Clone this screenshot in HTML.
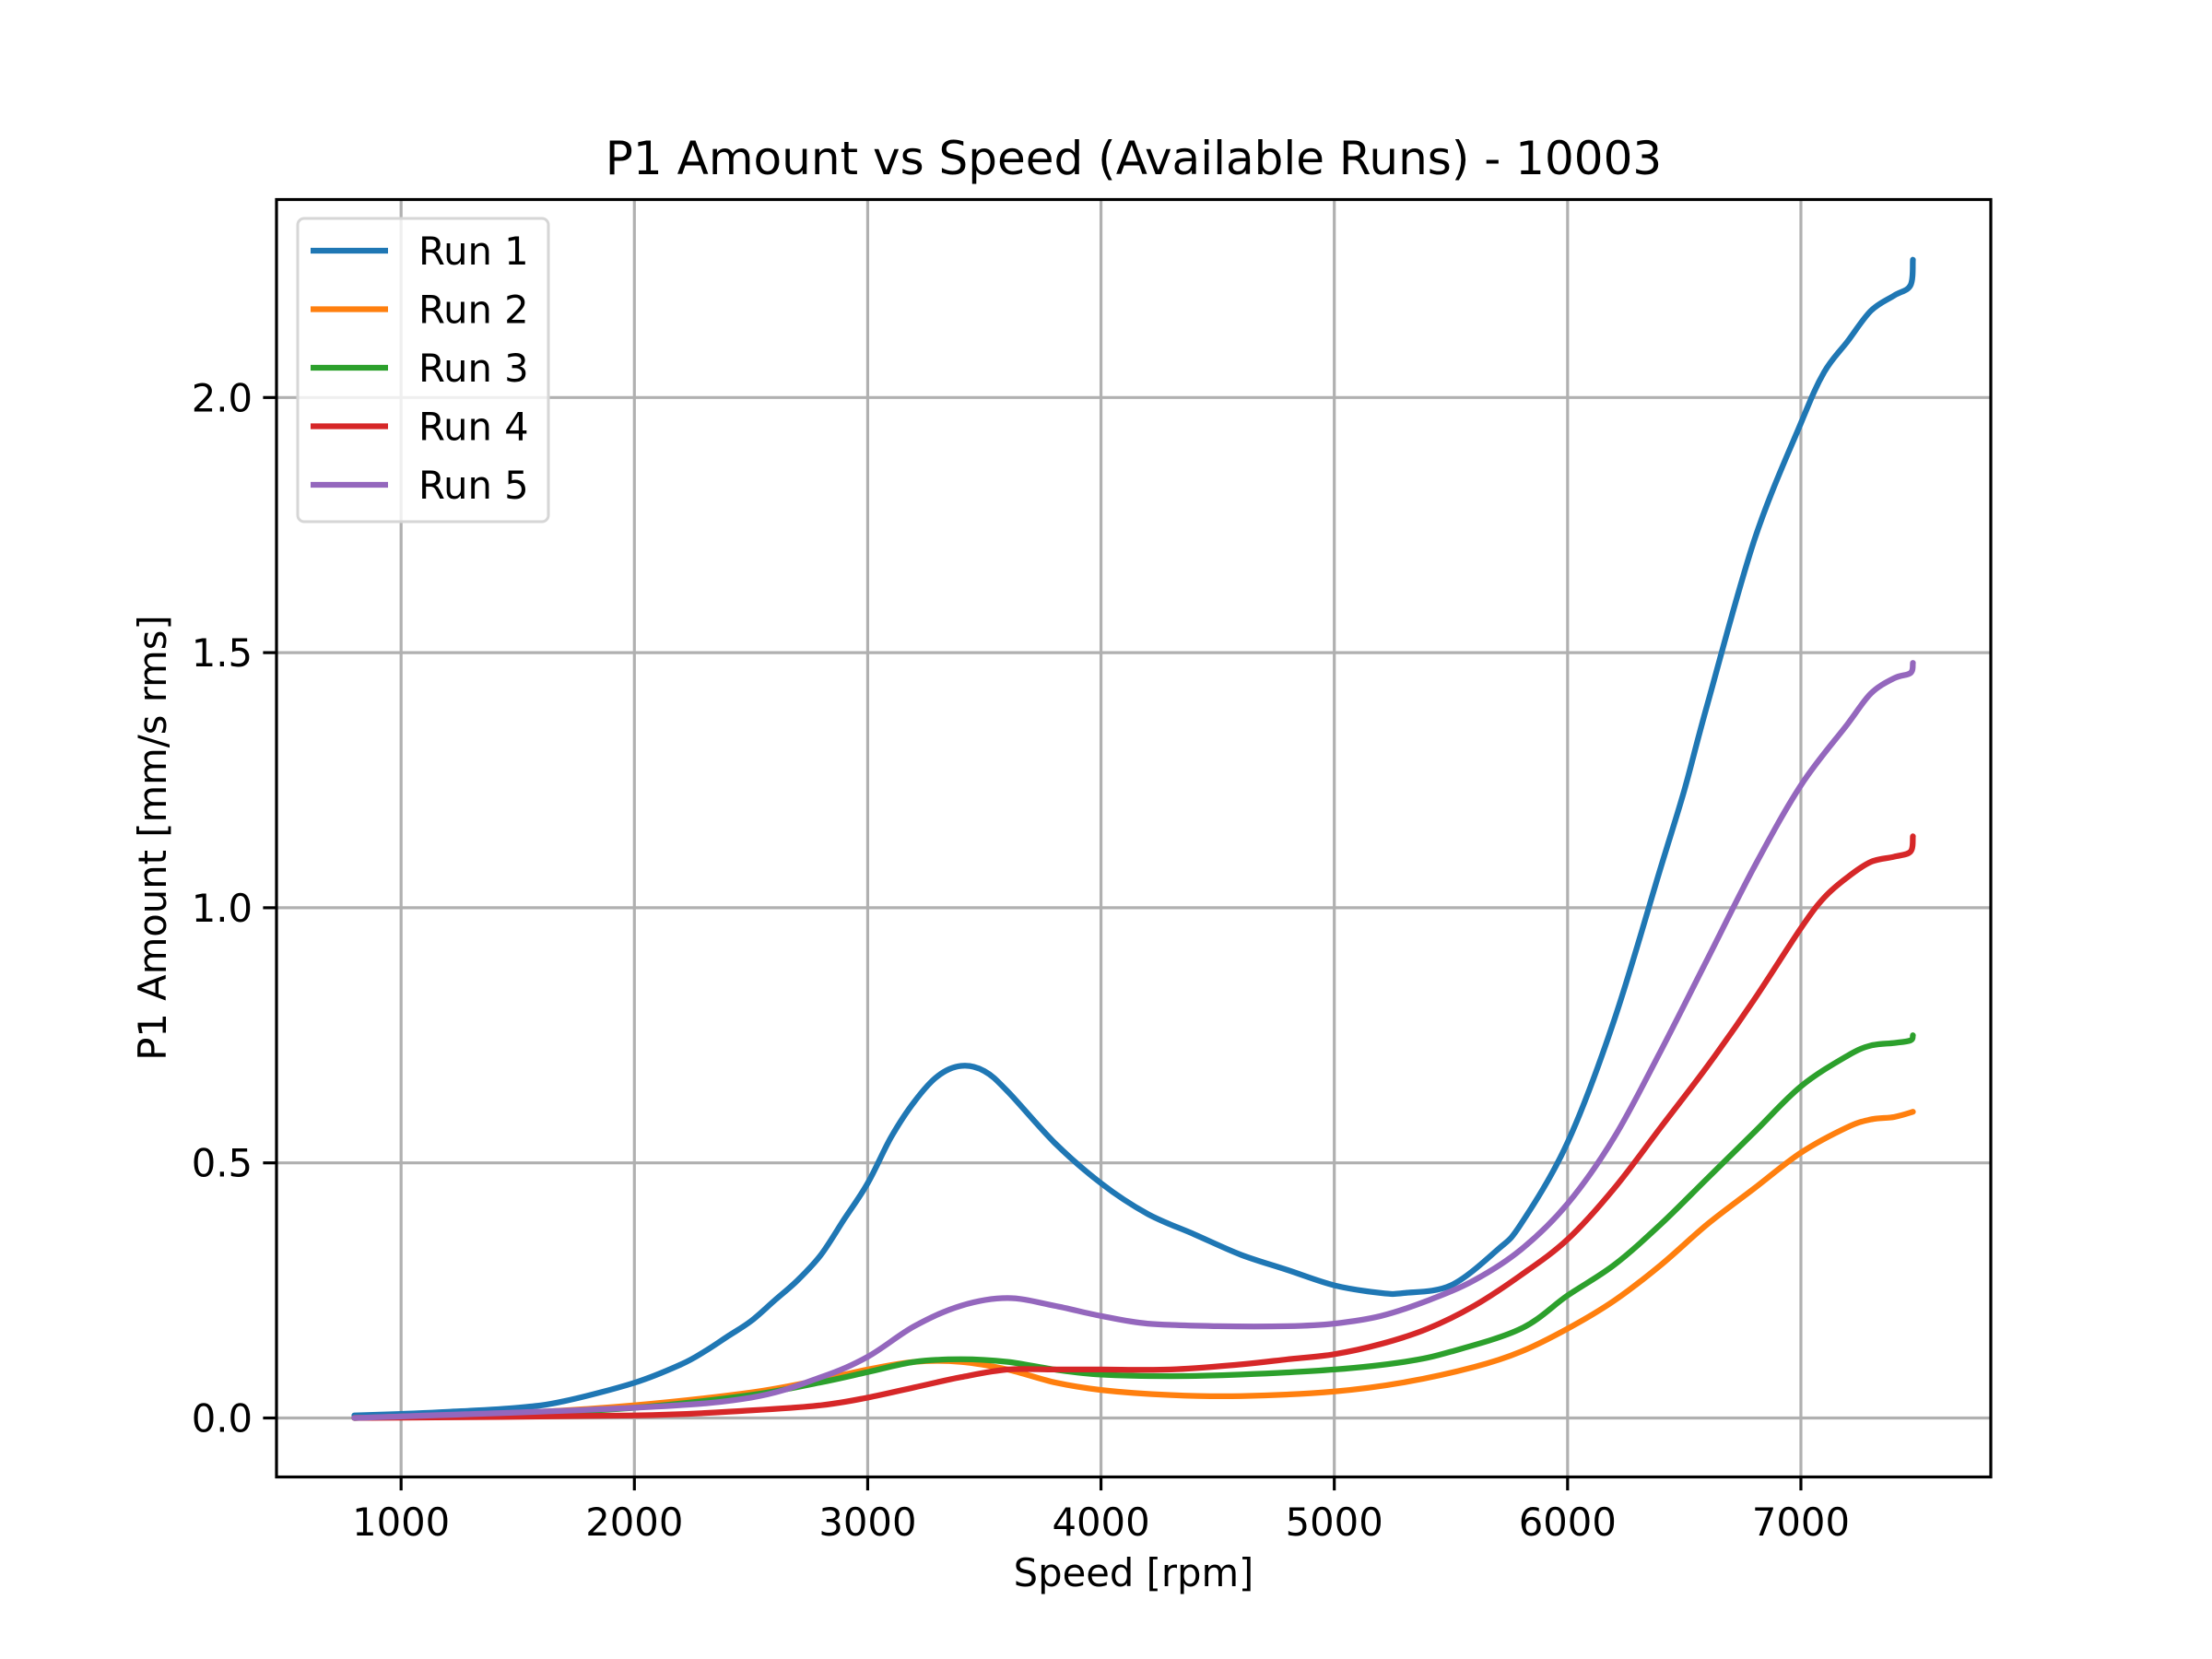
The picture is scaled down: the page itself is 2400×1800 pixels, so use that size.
<!DOCTYPE html>
<html><head><meta charset="utf-8"><style>
html,body{margin:0;padding:0;background:#fff;}
svg{display:block;font-family:"DejaVu Sans","Liberation Sans",sans-serif;}
</style></head><body>
<svg id="chart" width="2400" height="1800" viewBox="0 0 2400 1800" xmlns="http://www.w3.org/2000/svg">
<rect width="2400" height="1800" fill="#fff"/>
<text x="1230" y="189" font-size="50" text-anchor="middle">P1 Amount vs Speed (Available Runs) - 10003</text>
<text x="1230" y="1721" font-size="41.7" text-anchor="middle">Speed [rpm]</text>
<text transform="translate(180,909) rotate(-90)" font-size="41.7" text-anchor="middle">P1 Amount [mm/s rms]</text>
<g id="grid"></g>
<g id="ticks"></g>
<g id="series"></g>
<rect x="300" y="216.5" width="1860" height="1386" fill="none" stroke="#000" stroke-width="3.2"/>
<g id="legend"></g>
</svg>
<script>
const xTicks = [1000,2000,3000,4000,5000,6000,7000];
const yTicks = [0,0.5,1.0,1.5,2.0];
const yTickLabels = ["0.0","0.5","1.0","1.5","2.0"];
const seriesNames = ["Run 1","Run 2","Run 3","Run 4","Run 5"];
const run1X = [800,1000,1200,1500,1700,2000,2200,2300,2400,2500,2600,2700,2800,2900,3000,3100,3200,3300,3400,3500,3600,3800,4000,4200,4400,4600,4800,5000,5200,5300,5500,5700,5800,6000,6200,6400,6500,6600,6800,7000,7100,7200,7300,7400,7470,7480];
const run1Y = [0.005,0.008,0.012,0.02,0.033,0.069,0.105,0.13,0.16,0.19,0.23,0.27,0.32,0.39,0.46,0.55,0.62,0.67,0.69,0.68,0.64,0.54,0.46,0.40,0.36,0.32,0.29,0.26,0.245,0.245,0.26,0.33,0.38,0.54,0.78,1.08,1.23,1.40,1.72,1.95,2.05,2.11,2.17,2.20,2.22,2.27];
const run2X = [800,1500,2000,2500,2800,3000,3200,3400,3600,3800,4000,4300,4600,5000,5300,5600,5800,6000,6200,6400,6600,6800,7000,7200,7300,7400,7480];
const run2Y = [0,0.01,0.025,0.05,0.075,0.095,0.11,0.11,0.095,0.07,0.055,0.045,0.043,0.052,0.07,0.1,0.13,0.175,0.23,0.3,0.38,0.45,0.52,0.57,0.585,0.59,0.6];
const run3X = [800,1500,2000,2500,2800,3000,3200,3400,3600,3800,4000,4300,4600,5000,5300,5500,5800,6000,6200,6400,6600,6800,7000,7200,7300,7400,7470,7480];
const run3Y = [0,0.008,0.02,0.045,0.07,0.09,0.11,0.115,0.11,0.095,0.085,0.082,0.085,0.095,0.11,0.13,0.175,0.24,0.3,0.38,0.47,0.56,0.65,0.71,0.73,0.735,0.74,0.75];
const run4X = [800,2000,2500,2800,3000,3200,3400,3600,3800,4000,4300,4600,4800,5000,5200,5400,5600,5800,6000,6200,6400,6600,6800,7000,7100,7200,7300,7400,7470,7480];
const run4Y = [0,0.005,0.015,0.025,0.04,0.06,0.08,0.095,0.095,0.095,0.095,0.105,0.115,0.125,0.145,0.175,0.22,0.28,0.35,0.45,0.57,0.69,0.82,0.96,1.02,1.06,1.09,1.10,1.11,1.14];
const run5X = [800,2000,2500,2800,3000,3200,3400,3600,3800,4000,4200,4500,4800,5000,5200,5400,5600,5800,6000,6200,6400,6600,6800,7000,7200,7300,7400,7470,7480];
const run5Y = [0,0.02,0.04,0.08,0.12,0.18,0.22,0.235,0.22,0.2,0.185,0.18,0.18,0.185,0.2,0.23,0.27,0.33,0.42,0.55,0.72,0.9,1.08,1.24,1.36,1.42,1.45,1.46,1.48];

const colors = ["#1f77b4","#ff7f0e","#2ca02c","#d62728","#9467bd"];
const NS = "http://www.w3.org/2000/svg";
const L=300,R=2160,T=216.5,B=1602.5;
const xMin=466,xMax=7814,yMin=-0.1156,yMax=2.388;
function xs(v){return L+(v-xMin)/(xMax-xMin)*(R-L);}
function ys(v){return B-(v-yMin)/(yMax-yMin)*(B-T);}
function mk(tag,attrs,parent){const e=document.createElementNS(NS,tag);for(const k in attrs)e.setAttribute(k,attrs[k]);parent.appendChild(e);return e;}
const grid=document.getElementById('grid'),ticks=document.getElementById('ticks');
xTicks.forEach((t,i)=>{
  const g=mk('line',{x1:xs(t),x2:xs(t),y1:T,y2:B,stroke:'#b0b0b0','stroke-width':3.2},grid);
  
  
  const tk=mk('line',{x1:xs(t),x2:xs(t),y1:B,y2:B+14.6,stroke:'#000','stroke-width':3.2},ticks);
  
  
  const tx=mk('text',{x:xs(t),y:1666,'font-size':41.7,'text-anchor':'middle'},ticks);
  tx.textContent=String(t);
  
  
});
yTicks.forEach((t,i)=>{
  const g=mk('line',{x1:L,x2:R,y1:ys(t),y2:ys(t),stroke:'#b0b0b0','stroke-width':3.2},grid);
  
  
  const tk=mk('line',{x1:L-14.6,x2:L,y1:ys(t),y2:ys(t),stroke:'#000','stroke-width':3.2},ticks);
  
  
  const tx=mk('text',{x:274,y:ys(t)+15,'font-size':41.7,'text-anchor':'end'},ticks);
  tx.textContent=yTickLabels[i];
  
  
});
function smoothPath(pts){
  let d='M'+pts[0][0].toFixed(1)+','+pts[0][1].toFixed(1);
  for(let i=0;i<pts.length-1;i++){
    const p0=pts[Math.max(0,i-1)],p1=pts[i],p2=pts[i+1],p3=pts[Math.min(pts.length-1,i+2)];
    const c1x=p1[0]+(p2[0]-p0[0])/6,c1y=p1[1]+(p2[1]-p0[1])/6;
    const c2x=p2[0]-(p3[0]-p1[0])/6,c2y=p2[1]-(p3[1]-p1[1])/6;
    d+=' C'+c1x.toFixed(1)+','+c1y.toFixed(1)+' '+c2x.toFixed(1)+','+c2y.toFixed(1)+' '+p2[0].toFixed(1)+','+p2[1].toFixed(1);
  }
  return d;
}
const series=document.getElementById('series');
const allX=[run1X,run2X,run3X,run4X,run5X],allY=[run1Y,run2Y,run3Y,run4Y,run5Y];
allX.forEach((xa,s)=>{
  const ya=allY[s];
  const pts=xa.map((x,i)=>[xs(x),ys(ya[i])]);
  const p=mk('path',{d:smoothPath(pts),fill:'none',stroke:colors[s],'stroke-width':6.25,'stroke-linejoin':'round','stroke-linecap':'round'},series);
  
  
});
const lg=document.getElementById('legend');
const box=mk('rect',{x:323,y:237,width:272,height:329,rx:7,fill:'#fff','fill-opacity':0.8,stroke:'#d6d6d6','stroke-width':3},lg);


seriesNames.forEach((n,i)=>{
  const y=272+i*63.5;
  const ln=mk('line',{x1:337,x2:421,y1:y,y2:y,stroke:colors[i],'stroke-width':6.25},lg);
  
  
  const t=mk('text',{x:454,y:y+15,'font-size':41.7},lg);
  t.textContent=n;
  
  
});
</script>
</body></html>
